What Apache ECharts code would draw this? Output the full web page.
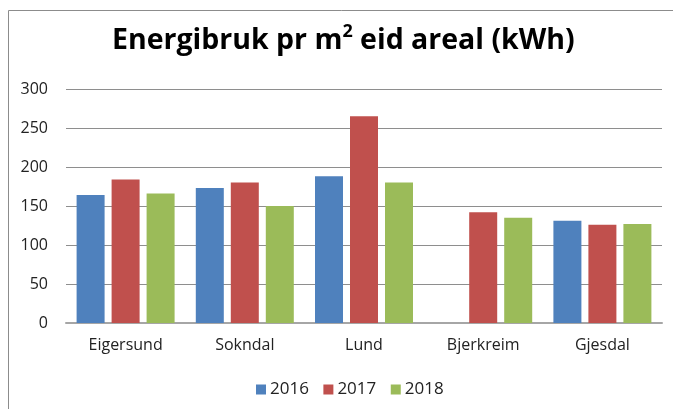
<!DOCTYPE html>
<html>
<head>
<meta charset="utf-8">
<script src="https://cdn.jsdelivr.net/npm/echarts@6/dist/echarts.min.js"></script>
<style>
  html, body { margin: 0; padding: 0; background: #fff; }
  #chart { width: 673px; height: 409px; }
</style>
</head>
<body>
<div id="chart"></div>
<script>
// Energy use per m² of owned floor area, by municipality and year
const municipalities = ['Eigersund', 'Sokndal', 'Lund', 'Bjerkreim', 'Gjesdal'];
const years = ['2016', '2017', '2018'];
const values2016 = [164, 173, 188, null, 131];
const values2017 = [184, 180, 265, 142, 126];
const values2018 = [166, 150, 180, 135, 127];
const yTicks = [0, 50, 100, 150, 200, 250, 300];

const colors = ['#4F81BD', '#C0504D', '#9BBB59'];
const font = '"Open Sans", sans-serif';

const chart = echarts.init(document.getElementById('chart'), null, { renderer: 'canvas' });

const seriesValues = [values2016, values2017, values2018];

chart.setOption({
  animation: false,
  color: colors,
  graphic: [{
    type: 'rect',
    shape: { x: 8.5, y: 10.5, width: 700, height: 500 },
    style: { fill: 'none', stroke: '#8C8C8C', lineWidth: 1 },
    silent: true
  }],
  title: {
    left: 112,
    top: 23,
    padding: 0,
    text: '{a|Energibruk pr m}{s|2}{a| eid areal (kWh)}',
    textStyle: {
      rich: {
        a: { fontFamily: font, fontWeight: 'bold', fontSize: 28.5, color: '#000', lineHeight: 36 },
        s: { fontFamily: font, fontWeight: 'bold', fontSize: 18, color: '#000', verticalAlign: 'top', lineHeight: 36, padding: [0, 0, 12, 0] }
      }
    }
  },
  legend: {
    bottom: 6,
    left: 251,
    itemWidth: 10,
    itemHeight: 10,
    itemGap: 14.5,
    icon: 'rect',
    textStyle: { fontFamily: font, fontSize: 17, color: '#222', padding: [0, 0, 0, -1] },
    data: years
  },
  grid: { left: 66, right: 11, top: 89, bottom: 86, containLabel: false },
  xAxis: {
    type: 'category',
    data: municipalities,
    axisTick: { show: false },
    axisLine: { lineStyle: { color: '#A6A6A6', width: 2 } },
    axisLabel: { fontFamily: font, fontSize: 16, color: '#222', margin: 14 }
  },
  yAxis: {
    type: 'value',
    min: yTicks[0],
    max: yTicks[yTicks.length - 1],
    interval: yTicks[1] - yTicks[0],
    axisLine: { show: false },
    axisTick: { show: false },
    axisLabel: { fontFamily: font, fontSize: 16, color: '#222', margin: 18 },
    splitLine: { lineStyle: { color: '#8E8E8E', width: 1 } }
  },
  series: years.map((y, i) => ({
    name: y,
    type: 'bar',
    data: seriesValues[i],
    barWidth: 28,
    barGap: '25%'
  }))
});
</script>
</body>
</html>
